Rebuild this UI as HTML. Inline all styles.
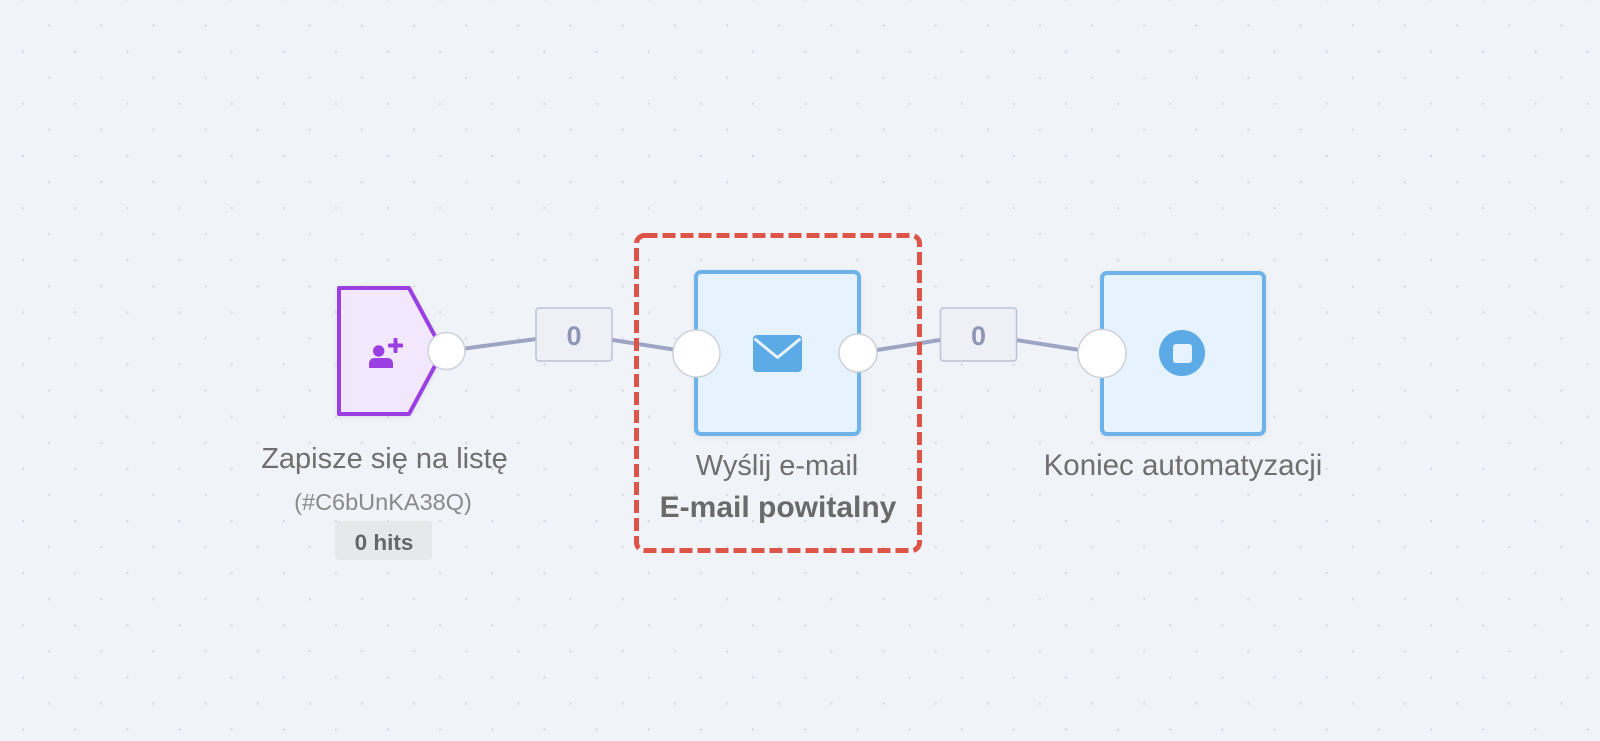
<!DOCTYPE html>
<html>
<head>
<meta charset="utf-8">
<style>
  html,body{margin:0;padding:0;background:#f0f3f7;}
  body{width:1600px;height:741px;overflow:hidden;}
  svg{display:block;}
  text{font-family:"Liberation Sans", "DejaVu Sans", sans-serif;}
</style>
</head>
<body>
<svg width="1600" height="741" viewBox="0 0 1600 741" xmlns="http://www.w3.org/2000/svg">
  <defs>
    <pattern id="dots" patternUnits="userSpaceOnUse" x="22" y="-1.5" width="52.15" height="52.15">
      <rect x="0" y="0" width="2" height="2" fill="#d5d9df"/>
      <rect x="26.08" y="26.08" width="2" height="2" fill="#d5d9df"/>
    </pattern>
    <filter id="sh" x="-10%" y="-10%" width="120%" height="120%">
      <feDropShadow dx="0" dy="1" stdDeviation="2" flood-color="#8090a0" flood-opacity="0.18"/>
    </filter>
  </defs>
  <rect x="0" y="0" width="1600" height="741" fill="#f0f3f7"/>
  <rect x="0" y="0" width="1600" height="741" fill="url(#dots)"/>

  <!-- connectors -->
  <g stroke="#9ea4c4" stroke-width="4" stroke-linecap="round" fill="none">
    <line x1="446" y1="351" x2="574" y2="334"/>
    <line x1="574" y1="334" x2="696" y2="353"/>
    <line x1="858" y1="353" x2="978" y2="334"/>
    <line x1="978" y1="334" x2="1102" y2="353.5"/>
  </g>

  <!-- trigger node -->
  <path d="M339 288 L409 288 L443 351 L409 414 L339 414 Z" fill="#f3e7fd" stroke="#9a3fe2" stroke-width="4" stroke-linejoin="round" filter="url(#sh)"/>
  <!-- person-plus icon -->
  <g fill="#9a3fe2">
    <circle cx="378.7" cy="351" r="5.7"/>
    <path d="M369 368 L369 364 Q369 358 375 358 L387 358 Q393 358 393 364 L393 368 Z"/>
    <rect x="388" y="343.5" width="15" height="4" rx="1"/>
    <rect x="393.5" y="338" width="4" height="15" rx="1"/>
  </g>

  <!-- email node -->
  <rect x="696" y="272" width="163" height="162" rx="5" fill="#e6f2fd" stroke="#6db3ea" stroke-width="4" filter="url(#sh)"/>
  <rect x="753" y="335" width="49" height="37" rx="4" fill="#5caae6"/>
  <path d="M755.5 339.5 L777.5 357.5 L799.5 339.5" fill="none" stroke="#e6f2fd" stroke-width="3" stroke-linejoin="round" stroke-linecap="round"/>

  <!-- end node -->
  <rect x="1102" y="273" width="162" height="161" rx="5" fill="#e6f2fd" stroke="#6db3ea" stroke-width="4" filter="url(#sh)"/>
  <circle cx="1182" cy="353" r="23" fill="#5caae6"/>
  <rect x="1173" y="344" width="19" height="19" rx="3" fill="#e6f2fd"/>

  <!-- port circles -->
  <g fill="#ffffff" stroke="#cdd1d8" stroke-width="1.5">
    <circle cx="446.5" cy="351" r="18.5"/>
    <circle cx="696.5" cy="353.5" r="23.5"/>
    <circle cx="858" cy="353" r="19"/>
    <circle cx="1102" cy="353.5" r="24"/>
  </g>

  <!-- count label boxes -->
  <rect x="536" y="308" width="76" height="53" rx="3" fill="#eef0f6" stroke="#bcc1d7" stroke-width="1.5"/>
  <text x="574" y="345" font-size="27" font-weight="700" fill="#8e95b5" text-anchor="middle">0</text>
  <rect x="940.5" y="308" width="76" height="53" rx="3" fill="#eef0f6" stroke="#bcc1d7" stroke-width="1.5"/>
  <text x="978.5" y="345" font-size="27" font-weight="700" fill="#8e95b5" text-anchor="middle">0</text>

  <!-- trigger labels -->
  <text x="384.5" y="468" font-size="29" fill="#6f6f6f" text-anchor="middle">Zapisze się na listę</text>
  <text x="383" y="510" font-size="23.5" fill="#8a8a8a" text-anchor="middle">(#C6bUnKA38Q)</text>
  <rect x="335" y="521" width="97" height="39" rx="4" fill="#e7e8ea"/>
  <text x="384" y="550" font-size="22.5" font-weight="700" fill="#666666" text-anchor="middle">0 hits</text>

  <!-- email labels -->
  <text x="777" y="475" font-size="29" fill="#6f6f6f" text-anchor="middle">Wyślij e-mail</text>
  <text x="778" y="517" font-size="30" font-weight="700" fill="#6a6a6a" text-anchor="middle">E-mail powitalny</text>

  <!-- end label -->
  <text x="1183" y="475" font-size="29.5" fill="#6f6f6f" text-anchor="middle">Koniec automatyzacji</text>

  <!-- dashed selection -->
  <rect x="636.5" y="235.5" width="283" height="315" rx="8" fill="none" stroke="#dc5548" stroke-width="5" stroke-dasharray="13 5"/>
</svg>
</body>
</html>
